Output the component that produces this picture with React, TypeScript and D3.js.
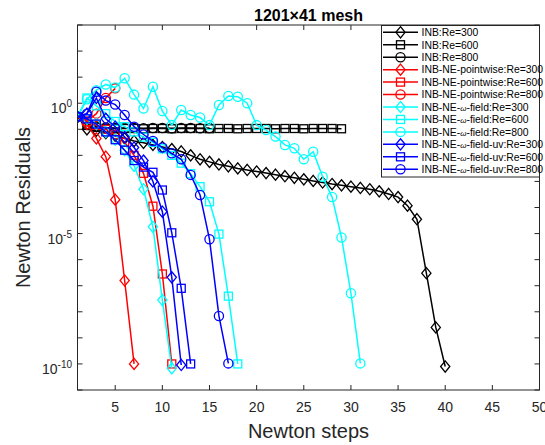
import React from "react";
import * as d3 from "d3";

// log10 of the Newton residual at steps 1, 2, 3, ...
const inb300 = [-0.52, -1.0, -1.05, -1.15, -1.25, -1.35, -1.45, -1.52, -1.6, -1.68, -1.76, -1.85, -2.0, -2.15, -2.25, -2.35, -2.42, -2.5, -2.56, -2.62, -2.68, -2.74, -2.8, -2.86, -2.92, -2.98, -3.04, -3.1, -3.15, -3.2, -3.25, -3.3, -3.38, -3.48, -3.6, -3.93, -4.45, -6.52, -8.6, -10.1];
const inb600 = [-0.52, -0.85, -0.93, -0.97, -0.98, -0.97, -0.97, -0.98, -0.97, -0.97, -0.98, -0.97, -0.97, -0.97, -0.98, -0.97, -0.97, -0.98, -0.97, -0.97, -0.97, -0.98, -0.97, -0.97, -0.98, -0.97, -0.97, -0.97, -0.98];
const inb800 = [-0.52, -0.8, -0.9, -0.93, -0.95, -0.95, -0.95, -0.96, -0.95, -0.95, -0.96, -0.95, -0.95, -0.96, -0.95];
const pw300 = [-0.52, -0.8, -1.35, -2.05, -3.7, -6.8, -10.0];
const pw600 = [-0.52, -0.7, -0.85, -1.0, -1.2, -1.5, -2.0, -2.69, -3.95, -6.55, -10.0];
const pw800 = [-0.52, -0.7, -0.4, 0.2, 0.57];
const wf300 = [-0.52, -0.6, -0.8, -1.1, -1.4, -1.8, -2.4, -3.3, -4.74, -7.55, -10.17];
const wf600 = [-0.52, 0.2, -0.1, -0.4, -0.7, -0.9, -1.1, -1.3, -1.5, -1.75, -2.0, -2.3, -2.7, -3.2, -3.78, -5.02, -7.4, -10.0];
const wf800 = [-0.52, 0.15, 0.5, 0.72, 0.6, 0.96, 0.33, -0.2, 0.63, -0.3, -0.84, -0.26, -0.45, -0.55, -0.84, -0.07, 0.28, 0.25, 0.0, -0.84, -1.03, -1.28, -1.6, -1.73, -2.15, -1.86, -2.82, -3.6, -5.15, -7.29, -9.98];
const uv300 = [-0.52, -0.4, 0.2, -0.6, -0.9, -1.3, -1.7, -2.2, -3.0, -4.16, -6.68, -10.04];
const uv600 = [-0.52, -0.6, -0.8, -1.1, -1.4, -1.8, -2.2, -2.45, -2.65, -3.33, -4.97, -7.1, -10.0];
const uv800 = [-0.52, -0.4, 0.44, 0.1, -0.05, -0.45, -0.9, -1.2, -1.45, -1.7, -1.92, -2.15, -2.75, -3.52, -5.22, -8.16, -9.98];

const methods = ["INB", "INB-NE-pointwise", "INB-NE-ω-field", "INB-NE-ω-field-uv"];
const reynolds = [300, 600, 800];
const colors = ["#000000", "#ff0000", "#00ffff", "#0000ff"];
const markers = ["diamond", "square", "circle"];
const values = [
  [inb300, inb600, inb800],
  [pw300, pw600, pw800],
  [wf300, wf600, wf800],
  [uv300, uv600, uv800],
];
const xTicks = [5, 10, 15, 20, 25, 30, 35, 40, 45, 50];
const yLabelExps = [0, -5, -10];

const W = 545, H = 445;
const m = { left: 77.5, right: 539.5, top: 25, bottom: 390 };
const font = "'Liberation Sans', Arial, Helvetica, sans-serif";
const axisColor = "#262626";

function Marker({ kind, x, y, color }: { kind: string; x: number; y: number; color: string }) {
  if (kind === "circle")
    return <circle cx={x} cy={y} r={4.6} fill="none" stroke={color} strokeWidth={1.3} />;
  if (kind === "square")
    return <rect x={x - 4} y={y - 4} width={8} height={8} fill="none" stroke={color} strokeWidth={1.3} />;
  return (
    <path
      d={`M${x},${y - 5.6}L${x + 4.6},${y}L${x},${y + 5.6}L${x - 4.6},${y}Z`}
      fill="none"
      stroke={color}
      strokeWidth={1.3}
    />
  );
}

function label(method: string, re: number) {
  const parts = method.split("ω");
  return (
    <>
      {parts.map((p, i) => (
        <React.Fragment key={i}>
          {i > 0 && <tspan fontSize={8} fontStyle="italic">ω</tspan>}
          <tspan fontSize={10.4}>{p}</tspan>
        </React.Fragment>
      ))}
      <tspan fontSize={10.4}>{`:Re=${re}`}</tspan>
    </>
  );
}

export default function App() {
  const x = d3.scaleLinear().domain([1, 50]).range([m.left, m.right]);
  const y = d3.scaleLog().domain([1e-11, 1e3]).range([m.bottom, m.top]);
  const line = d3
    .line<number>()
    .x((_, i) => x(i + 1))
    .y((v) => y(Math.pow(10, v)));
  const decades = d3.range(-11, 4);

  const series: { color: string; kind: string; data: number[]; name: string; re: number }[] = [];
  methods.forEach((name, mi) =>
    reynolds.forEach((re, ri) =>
      series.push({ color: colors[mi], kind: markers[ri], data: values[mi][ri], name, re })
    )
  );

  const legX = 381.5, legY = 25.5, legW = 158, legH = 151.5, rowH = 12.45;

  return (
    <svg width={W} height={H} style={{ position: "absolute", left: 0, top: 0 }} fontFamily={font}>
      <rect width={W} height={H} fill="#fff" />
      <text x={(m.left + m.right) / 2} y={20.5} textAnchor="middle" fontSize={16} fontWeight="bold" fill="#000">
        1201×41 mesh
      </text>

      {/* ticks */}
      <g stroke={axisColor} strokeWidth={1}>
        {xTicks.map((t) => (
          <g key={t}>
            <line x1={x(t)} x2={x(t)} y1={m.bottom} y2={m.bottom - 5} />
            <line x1={x(t)} x2={x(t)} y1={m.top} y2={m.top + 5} />
          </g>
        ))}
        {decades.map((d) => (
          <g key={d}>
            <line x1={m.left} x2={m.left + 5} y1={y(Math.pow(10, d))} y2={y(Math.pow(10, d))} />
            <line x1={m.right} x2={m.right - 5} y1={y(Math.pow(10, d))} y2={y(Math.pow(10, d))} />
          </g>
        ))}
      </g>

      {/* series */}
      <defs>
        <clipPath id="plot">
          <rect x={m.left} y={m.top} width={m.right - m.left} height={m.bottom - m.top} />
        </clipPath>
      </defs>
      <g clipPath="url(#plot)">
        {series.map((s, k) => (
          <g key={k}>
            <path d={line(s.data) || ""} fill="none" stroke={s.color} strokeWidth={1.5} />
            {s.data.map((v, i) => (
              <Marker key={i} kind={s.kind} x={x(i + 1)} y={y(Math.pow(10, v))} color={s.color} />
            ))}
          </g>
        ))}
      </g>

      {/* axes box */}
      <rect x={m.left} y={m.top} width={m.right - m.left} height={m.bottom - m.top} fill="none" stroke={axisColor} strokeWidth={1} />

      {/* tick labels */}
      {xTicks.map((t) => (
        <text key={t} x={x(t)} y={412} textAnchor="middle" fontSize={14} fill={axisColor}>
          {t}
        </text>
      ))}
      {yLabelExps.map((e) => (
        <text key={e} x={72} y={y(Math.pow(10, e)) + 10} textAnchor="end" fontSize={14} fill={axisColor}>
          10<tspan fontSize={10} dy={-6}>{e}</tspan>
        </text>
      ))}

      <text x={(m.left + m.right) / 2} y={438} textAnchor="middle" fontSize={20} fill={axisColor}>
        Newton steps
      </text>
      <text
        transform={`translate(30,${(m.top + m.bottom) / 2}) rotate(-90)`}
        textAnchor="middle"
        fontSize={20}
        fill={axisColor}
      >
        Newton Residuals
      </text>

      {/* legend */}
      <rect x={legX} y={legY} width={legW} height={legH} fill="#fff" stroke={axisColor} strokeWidth={1} />
      {series.map((s, k) => {
        const cy = 32.3 + k * rowH;
        return (
          <g key={k}>
            <line x1={383} x2={418} y1={cy} y2={cy} stroke={s.color} strokeWidth={1.5} />
            <Marker kind={s.kind} x={400.5} y={cy} color={s.color} />
            <text x={421.5} y={cy + 3.8} fill="#000">
              {label(s.name, s.re)}
            </text>
          </g>
        );
      })}
    </svg>
  );
}
